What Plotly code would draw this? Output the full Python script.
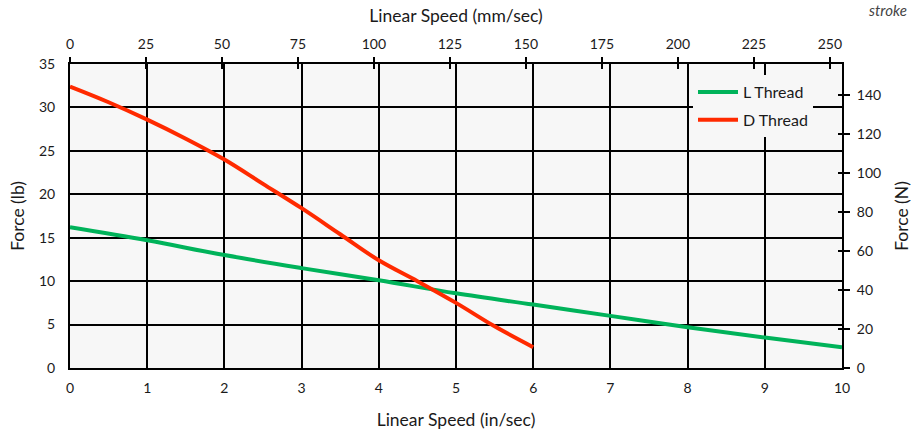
import plotly.graph_objects as go

# Data
speed_L_in = [0, 1, 2, 3, 4, 5, 6, 7, 8, 9, 10]
force_L_lb = [16.2, 14.7, 13.0, 11.5, 10.1, 8.6, 7.3, 6.0, 4.7, 3.5, 2.4]

speed_D_in = [0, 0.5, 1, 1.5, 2, 2.5, 3, 3.5, 4, 4.5, 5, 5.5, 6]
force_D_lb = [32.4, 30.6, 28.6, 26.4, 24.0, 21.2, 18.4, 15.4, 12.4, 10.0, 7.5, 4.8, 2.4]

series_names = ["L Thread", "D Thread"]
series_colors = ["#00b35a", "#ff2a00"]

IN_TO_MM = 25.4
LB_TO_N = 4.44822
X_MAX_IN = 10
Y_MAX_LB = 35

FONT = "Lato"
TXT = "#1a1a1a"

W, H = 912, 432
ML, MR, MT, MB = 70, 70, 64, 64
PW = W - ML - MR
PH = H - MT - MB

fig = go.Figure()
fig.add_trace(go.Scatter(x=speed_L_in, y=force_L_lb, mode="lines", name=series_names[0],
                         legendgroup="a",
                         line=dict(color=series_colors[0], width=4, shape="spline")))
fig.add_trace(go.Scatter(x=speed_D_in, y=force_D_lb, mode="lines", name=series_names[1],
                         legendgroup="b",
                         line=dict(color=series_colors[1], width=4, shape="spline")))

tickfont = dict(family=FONT, size=14, color=TXT)
titlefont = dict(family=FONT, size=17.5, color=TXT)

fig.update_layout(
    width=W, height=H,
    margin=dict(l=ML, r=MR, t=MT, b=MB, autoexpand=False),
    paper_bgcolor="white",
    plot_bgcolor="#f7f7f7",
    font=dict(family=FONT, size=14, color=TXT),
    showlegend=True,
    legend=dict(x=(693 - ML) / PW, y=1 - (75 - MT) / PH,
                xanchor="left", yanchor="top",
                bgcolor="#f7f7f7", borderwidth=0,
                font=dict(family=FONT, size=16, color=TXT),
                tracegroupgap=4, itemwidth=40),
    xaxis=dict(range=[0, X_MAX_IN], dtick=1, tick0=0,
               showgrid=True, gridcolor="black", gridwidth=2,
               showline=True, linecolor="black", linewidth=2, mirror=False,
               zeroline=False, ticks="", tickfont=tickfont,
               ticklabelstandoff=6,
               title=dict(text="Linear Speed (in/sec)", font=titlefont, standoff=19)),
    yaxis=dict(range=[0, Y_MAX_LB], dtick=5, tick0=0,
               showgrid=True, gridcolor="black", gridwidth=2,
               showline=True, linecolor="black", linewidth=2,
               zeroline=False, ticks="", tickfont=tickfont,
               ticklabelstandoff=10,
               title=dict(text="Force (lb)", font=titlefont, standoff=10)),
    xaxis2=dict(range=[0, X_MAX_IN * IN_TO_MM], dtick=25, tick0=0,
                overlaying="x", side="top", anchor="y",
                showgrid=False, zeroline=False,
                showline=True, linecolor="black", linewidth=2,
                ticks="outside", ticklen=5, tickwidth=2, tickcolor="black",
                tickfont=tickfont, ticklabelstandoff=2,
                title=dict(text="Linear Speed (mm/sec)", font=titlefont, standoff=8)),
    xaxis3=dict(range=[0, X_MAX_IN * IN_TO_MM], dtick=25, tick0=0,
                overlaying="x", side="top", anchor="y",
                showgrid=False, zeroline=False, showline=False,
                ticks="inside", ticklen=5, tickwidth=2, tickcolor="black",
                showticklabels=False),
    yaxis2=dict(range=[0, Y_MAX_LB * LB_TO_N], dtick=20, tick0=0,
                overlaying="y", side="right", anchor="x",
                showgrid=False, zeroline=False,
                showline=True, linecolor="black", linewidth=2,
                ticks="outside", ticklen=6, tickwidth=2, tickcolor="black",
                tickfont=tickfont, ticklabelstandoff=4,
                title=dict(text="Force (N)", font=titlefont, standoff=17)),
    yaxis3=dict(range=[0, Y_MAX_LB * LB_TO_N], dtick=20, tick0=0,
                overlaying="y", side="right", anchor="x",
                showgrid=False, zeroline=False, showline=False,
                ticks="inside", ticklen=4, tickwidth=2, tickcolor="black",
                showticklabels=False),
)

# invisible traces to activate secondary axes
fig.add_trace(go.Scatter(x=[0], y=[0], xaxis="x2", yaxis="y2", mode="markers",
                         marker=dict(opacity=0), showlegend=False, hoverinfo="skip"))
fig.add_trace(go.Scatter(x=[0], y=[0], xaxis="x3", yaxis="y3", mode="markers",
                         marker=dict(opacity=0), showlegend=False, hoverinfo="skip"))

# note at the top-right edge (kept fully inside the page)
fig.add_annotation(text="<i>stroke</i>", xref="paper", yref="paper",
                   x=(909 - ML) / PW, y=1 + (MT + 1) / PH,
                   xanchor="right", yanchor="top", showarrow=False,
                   font=dict(family=FONT, size=15, color="#444444"))

fig.write_html("out.html", config={"displayModeBar": False},
               post_script="document.body.style.margin='0';")
